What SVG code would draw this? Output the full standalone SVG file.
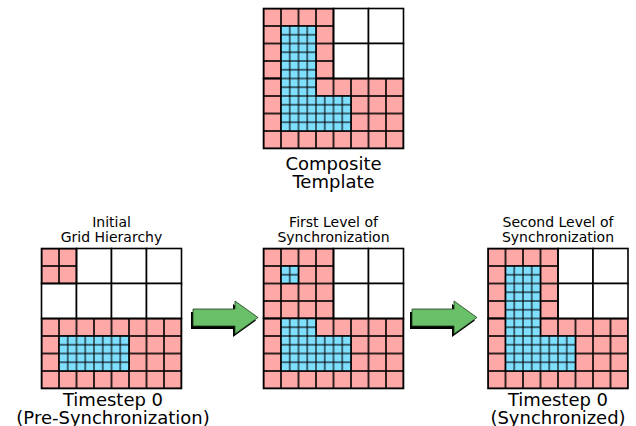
<svg xmlns="http://www.w3.org/2000/svg" width="636" height="426" viewBox="0 0 636 426">
<style>
text{font-family:"DejaVu Sans","Verdana",sans-serif;fill:#000;text-anchor:middle}
.big{font-size:18px}
.small{font-size:14px}
.wh{fill:#fff;stroke:#000;stroke-width:1.6}
.pk{fill:url(#pkp);stroke:#000;stroke-width:1.6}
.bl{fill:url(#blp);stroke:#000;stroke-width:1.2}
.ar{fill:#6abf69;stroke:#1e3d1e;stroke-width:0.8}
.sh{fill:#000}
</style>
<defs>
<pattern id="pkp" width="17.5" height="17.5" patternUnits="userSpaceOnUse">
<rect width="17.5" height="17.5" fill="#ffa8a8" stroke="#000" stroke-width="1.6"/>
</pattern>
<pattern id="blp" width="8.75" height="8.75" patternUnits="userSpaceOnUse">
<rect width="8.75" height="8.75" fill="#7fdfff" stroke="#000" stroke-width="1.1"/>
</pattern>
<polygon id="arrow" points="0,-8.5 42,-8.5 42,-16.5 65,0 42,16.5 42,8.5 0,8.5"/>
</defs>

<g id="composite" transform="translate(263.5,8.5)">
<rect class="wh" x="70" y="0" width="35" height="35"/>
<rect class="wh" x="105" y="0" width="35" height="35"/>
<rect class="wh" x="70" y="35" width="35" height="35"/>
<rect class="wh" x="105" y="35" width="35" height="35"/>
<rect class="pk" x="0" y="0" width="70" height="70"/>
<rect class="pk" x="0" y="70" width="140" height="70"/>
<path class="bl" d="M17.5 17.5H52.5V87.5H87.5V122.5H17.5Z"/>
<text class="big" x="70" y="161.5">Composite</text>
<text class="big" x="70" y="179">Template</text>
</g>

<g id="initial" transform="translate(41.5,248.5)">
<text class="small" x="70" y="-22">Initial</text>
<text class="small" x="70" y="-7">Grid Hierarchy</text>
<rect class="wh" x="35" y="0" width="35" height="35"/>
<rect class="wh" x="70" y="0" width="35" height="35"/>
<rect class="wh" x="105" y="0" width="35" height="35"/>
<rect class="wh" x="0" y="35" width="35" height="35"/>
<rect class="wh" x="35" y="35" width="35" height="35"/>
<rect class="wh" x="70" y="35" width="35" height="35"/>
<rect class="wh" x="105" y="35" width="35" height="35"/>
<rect class="pk" x="0" y="0" width="35" height="35"/>
<rect class="pk" x="0" y="70" width="140" height="70"/>
<rect class="bl" x="17.5" y="87.5" width="70" height="35"/>
<text class="big" x="71.5" y="157.5">Timestep 0</text>
<text class="big" x="71.5" y="175">(Pre-Synchronization)</text>
</g>

<g id="first" transform="translate(263.5,248.5)">
<text class="small" x="70" y="-22">First Level of</text>
<text class="small" x="70" y="-7">Synchronization</text>
<rect class="wh" x="70" y="0" width="35" height="35"/>
<rect class="wh" x="105" y="0" width="35" height="35"/>
<rect class="wh" x="70" y="35" width="35" height="35"/>
<rect class="wh" x="105" y="35" width="35" height="35"/>
<rect class="pk" x="0" y="0" width="70" height="70"/>
<rect class="pk" x="0" y="70" width="140" height="70"/>
<rect class="bl" x="17.5" y="17.5" width="17.5" height="17.5"/>
<path class="bl" d="M17.5 70H52.5V87.5H87.5V122.5H17.5Z"/>
</g>

<g id="second" transform="translate(488,248.5)">
<text class="small" x="70" y="-22">Second Level of</text>
<text class="small" x="70" y="-7">Synchronization</text>
<rect class="wh" x="70" y="0" width="35" height="35"/>
<rect class="wh" x="105" y="0" width="35" height="35"/>
<rect class="wh" x="70" y="35" width="35" height="35"/>
<rect class="wh" x="105" y="35" width="35" height="35"/>
<rect class="pk" x="0" y="0" width="70" height="70"/>
<rect class="pk" x="0" y="70" width="140" height="70"/>
<path class="bl" d="M17.5 17.5H52.5V87.5H87.5V122.5H17.5Z"/>
<text class="big" x="70" y="157.5">Timestep 0</text>
<text class="big" x="70" y="175">(Synchronized)</text>
</g>

<g id="connectors">
<use href="#arrow" class="sh" transform="translate(191,320.5)"/>
<use href="#arrow" class="ar" transform="translate(193,317.5)"/>
<use href="#arrow" class="sh" transform="translate(410,320.5)"/>
<use href="#arrow" class="ar" transform="translate(412,317.5)"/>
</g>
</svg>
